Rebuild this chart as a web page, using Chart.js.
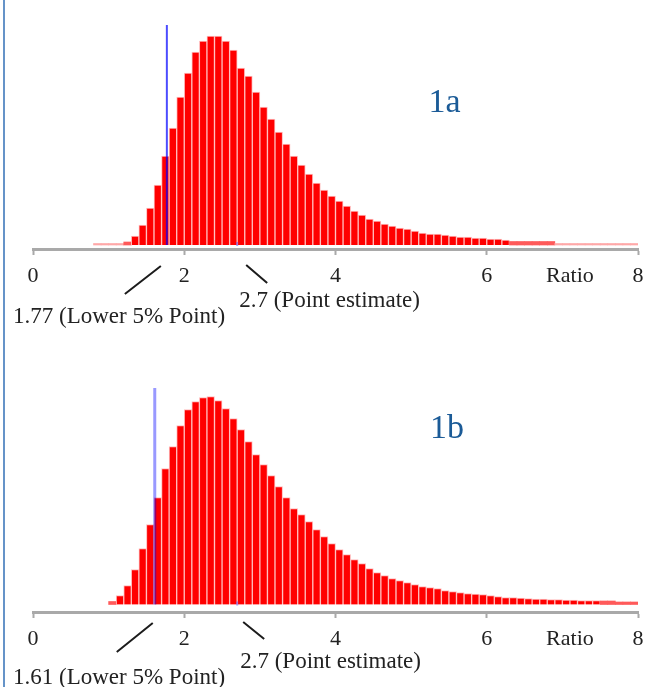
<!DOCTYPE html>
<html>
<head>
<meta charset="utf-8">
<script src="https://cdn.jsdelivr.net/npm/chart.js@4.4.1/dist/chart.umd.min.js"></script>
<style>
  html, body { margin: 0; padding: 0; background: #fff; }
  #wrap { position: relative; width: 652px; height: 687px; overflow: hidden; }
  #edge { position: absolute; left: 3px; top: 0; width: 2px; height: 687px; background: #6593c8; }
  canvas { position: absolute; left: 0; }
  #c1 { top: 0; }
  #c2 { top: 345px; }
</style>
</head>
<body>
<div id="wrap">
  <canvas id="c1" width="652" height="345"></canvas>
  <canvas id="c2" width="652" height="342"></canvas>
  <div id="edge"></div>
</div>
<script>
// lower edge of each 0.1 wide bin
const bins = [0.8, 0.9, 1.0, 1.1, 1.2, 1.3, 1.4, 1.5, 1.6, 1.7, 1.8, 1.9,
              2.0, 2.1, 2.2, 2.3, 2.4, 2.5, 2.6, 2.7, 2.8, 2.9,
              3.0, 3.1, 3.2, 3.3, 3.4, 3.5, 3.6, 3.7, 3.8, 3.9,
              4.0, 4.1, 4.2, 4.3, 4.4, 4.5, 4.6, 4.7, 4.8, 4.9,
              5.0, 5.1, 5.2, 5.3, 5.4, 5.5, 5.6, 5.7, 5.8, 5.9,
              6.0, 6.1, 6.2, 6.3, 6.4, 6.5, 6.6, 6.7, 6.8, 6.9,
              7.0, 7.1, 7.2, 7.3, 7.4, 7.5, 7.6, 7.7, 7.8, 7.9];
const binWidth = 0.1;

// relative frequencies (arbitrary units)
const freq1a = [1.5, 1.5, 1.5, 1.5, 3, 9, 20, 37, 60, 89, 117, 148,
                172, 193, 204, 209, 209, 204, 195, 177, 169, 153,
                138, 126, 113, 101, 89, 80, 71, 62, 55, 49,
                44, 39, 34, 30, 26, 24, 21, 19, 17, 16,
                14, 12, 11, 11, 10, 9, 8, 8, 7, 7,
                6, 6, 5, 3.5, 3.5, 3.5, 3.5, 3.5, 3.5, 1.5,
                1.5, 1.5, 1.5, 1.5, 1.5, 1.5, 1.5, 1.5, 1.5, 1.5];
const freq1b = [null, null, 3, 9, 19, 35, 56, 80, 107, 136, 158, 179,
                195, 203, 207, 208, 204, 196, 186, 175, 163, 150,
                140, 129, 118, 107, 96, 90, 83, 75, 68, 61,
                55, 50, 45, 41, 36, 32, 29, 26, 24, 22,
                20, 18, 17, 16, 14, 13, 12, 11, 10.5, 10,
                9, 8, 7, 7, 6.5, 6, 5.5, 5.5, 5, 5,
                4.5, 4.5, 4, 4, 4, 3.5, 3.5, 2.5, 2.5, 2.5];

const tickValues = [0, 2, 4, 6, 8];
const axisName = 'Ratio';
const axisNameAt = 7.1;

const pointEstimate = 2.7;
const lower1a = 1.77;
const lower1b = 1.61;
const lowerText1a = '1.77 (Lower 5% Point)';
const lowerText1b = '1.61 (Lower 5% Point)';
const pointText = '2.7 (Point estimate)';

const centers = bins.map(b => +(b + binWidth / 2).toFixed(2));

const notes = {
  id: 'notes',
  afterDraw(chart, args, o) {
    const ctx = chart.ctx, x = chart.scales.x, base = chart.chartArea.bottom;
    const lx = x.getPixelForValue(o.lower), px = x.getPixelForValue(o.point);
    ctx.save();
    ctx.strokeStyle = '#1c1c1c';
    ctx.lineWidth = 2;
    ctx.beginPath();
    ctx.moveTo(lx + o.a[0], base + o.a[1]);
    ctx.lineTo(lx + o.a[2], base + o.a[3]);
    ctx.moveTo(px + o.b[0], base + o.b[1]);
    ctx.lineTo(px + o.b[2], base + o.b[3]);
    ctx.stroke();
    ctx.fillStyle = '#222';
    ctx.font = '23px "Liberation Serif"';
    ctx.textBaseline = 'alphabetic';
    ctx.fillText(o.lowerText, o.lowerTextX, base + o.lowerTextDy);
    ctx.fillText(o.pointText, px + o.pointTextDx, base + o.pointTextDy);
    ctx.fillStyle = '#1b5b97';
    ctx.font = '34px "Liberation Serif"';
    ctx.fillText(o.panel, x.getPixelForValue(o.panelAt), o.panelY);
    ctx.restore();
  }
};

function makeChart(id, values, lower, lineTop, lineColor, lineWidth, yMin, yMax, pad, note) {
  return new Chart(document.getElementById(id), {
    type: 'bar',
    data: {
      labels: centers,
      datasets: [{
        type: 'line',
        data: [{x: lower, y: 0}, {x: lower, y: lineTop}],
        borderColor: lineColor,
        borderWidth: lineWidth,
        pointRadius: 0,
        order: 0
      }, {
        type: 'line',
        data: [{x: pointEstimate, y: -1}, {x: pointEstimate, y: 3}],
        borderColor: 'rgba(90,90,255,0.55)',
        borderWidth: 2,
        pointRadius: 0,
        order: 0
      }, {
        data: values,
        backgroundColor: c => {
          const v = c.raw;
          return v < 2 ? '#ffa8a8' : v < 4 ? '#ff5a5a' : '#ff0000';
        },
        borderColor: '#ffbcbc',
        borderWidth: c => (c.raw < 4 ? 0 : 1),
        barPercentage: 1,
        categoryPercentage: 1,
        order: 1
      }]
    },
    options: {
      responsive: false,
      animation: false,
      layout: { padding: pad },
      plugins: {
        legend: { display: false },
        tooltip: { enabled: false },
        notes: note
      },
      scales: {
        x: {
          type: 'linear',
          min: 0,
          max: 8,
          offset: false,
          afterBuildTicks: s => {
            s.ticks = tickValues.concat([axisNameAt]).sort((p, q) => p - q).map(v => ({value: v}));
          },
          afterFit: s => { s.height = 45; },
          border: { display: true, color: '#a9a9a9', width: 3 },
          grid: {
            display: true,
            offset: false,
            drawOnChartArea: false,
            drawTicks: true,
            tickLength: 6,
            tickWidth: 2,
            tickColor: c => (c.tick && c.tick.value === axisNameAt ? 'rgba(0,0,0,0)' : '#a9a9a9')
          },
          ticks: {
            autoSkip: false,
            maxRotation: 0,
            padding: 8,
            color: '#222',
            font: { family: 'Liberation Serif', size: 22 },
            callback: v => (v === axisNameAt ? axisName : String(v))
          }
        },
        y: { display: false, min: yMin, max: yMax }
      }
    },
    plugins: [notes]
  });
}

makeChart('c1', freq1a, lower1a, 220, 'rgba(0,0,255,0.7)', 2, -4, 225,
  { left: 33, right: 14, top: 20, bottom: 51 },
  { lower: lower1a, point: pointEstimate, a: [-6, 17, -42, 45], b: [9, 16, 30, 34],
    lowerText: lowerText1a, lowerTextX: 13, lowerTextDy: 74,
    pointText: pointText, pointTextDx: 2, pointTextDy: 58,
    panel: '1a', panelAt: 5.23, panelY: 112 });

makeChart('c2', freq1b, lower1b, 216.5, 'rgba(0,0,255,0.4)', 3, -7.5, 232.5,
  { left: 33, right: 14, top: 27, bottom: 30 },
  { lower: lower1b, point: pointEstimate, a: [-2, 11, -38, 40], b: [6, 10, 27, 27],
    lowerText: lowerText1b, lowerTextX: 13, lowerTextDy: 72,
    pointText: pointText, pointTextDx: 3, pointTextDy: 56,
    panel: '1b', panelAt: 5.25, panelY: 93 });
</script>
</body>
</html>
